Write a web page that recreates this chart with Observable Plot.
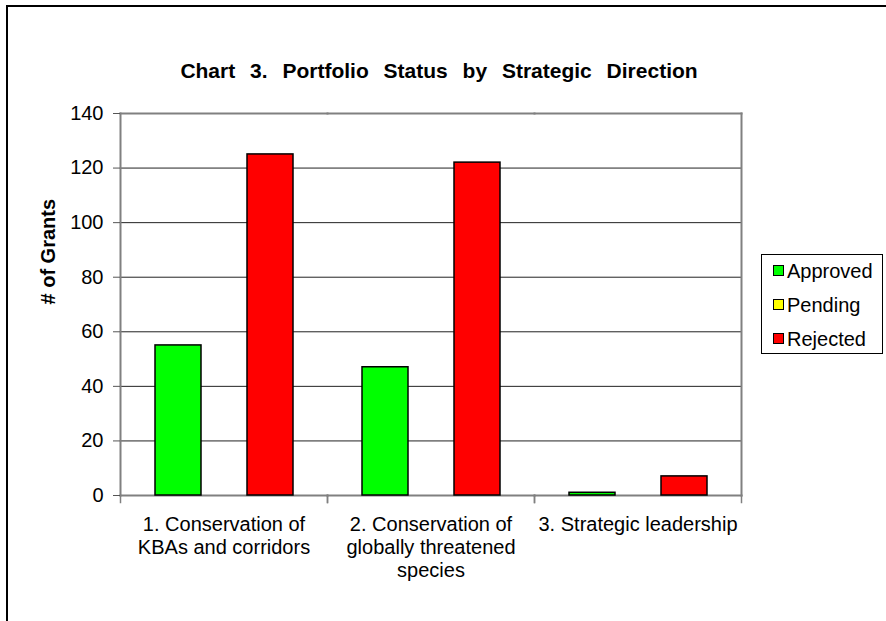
<!DOCTYPE html>
<html>
<head>
<meta charset="utf-8">
<script src="https://cdn.jsdelivr.net/npm/d3@7"></script>
<script src="https://cdn.jsdelivr.net/npm/@observablehq/plot@0.6"></script>
<style>
  html, body { margin: 0; padding: 0; width: 886px; height: 621px; overflow: hidden; background: #fff; }
  body { position: relative; font-family: "Liberation Sans", Arial, sans-serif; }
  #border { position: absolute; left: 6px; top: 5px; width: 1000px; height: 1000px; border: 2px solid #000; }
  #chart { position: absolute; left: 0; top: 0; }
  #title { position: absolute; left: 0; width: 878px; top: 59px; text-align: center; font-weight: bold; font-size: 21px; word-spacing: 9px; white-space: nowrap; }
  #legend { position: absolute; left: 761px; top: 254px; width: 122px; height: 100px; border: 1px solid #000; box-sizing: border-box; }
  .item { position: absolute; left: 11px; font-size: 20px; line-height: 20px; white-space: nowrap; }
  .sw { display: inline-block; width: 9px; height: 9px; border: 1.5px solid #000; margin-right: 3px; vertical-align: 2px; }
</style>
</head>
<body>
<div id="border"></div>
<div id="chart"></div>
<div id="title">Chart 3. Portfolio Status by Strategic Direction</div>
<div id="legend"></div>
<script>
const categories = [
  "1. Conservation of KBAs and corridors",
  "2. Conservation of globally threatened species",
  "3. Strategic leadership"
];
const tickLabels = [
  "1. Conservation of\nKBAs and corridors",
  "2. Conservation of\nglobally threatened\nspecies",
  "3. Strategic leadership"
];
const statuses = ["Approved", "Pending", "Rejected"];
const statusColors = ["#00ff00", "#ffff00", "#ff0000"];
const approved = [55, 47, 1];
const pending = [0, 0, 0];
const rejected = [125, 122, 7];
const yTicks = [0, 20, 40, 60, 80, 100, 120, 140];
const yLabel = "# of Grants";

const series = [approved, pending, rejected];
const data = [];
categories.forEach((c, i) => {
  statuses.forEach((s, j) => data.push({category: c, status: s, value: series[j][i]}));
});

const W = 886, H = 621;
const mTop = 113, mBottom = 126, mLeft = 119, mRight = 145;
const plotH = H - mTop - mBottom;

const chart = Plot.plot({
  width: W,
  height: H,
  marginTop: mTop,
  marginBottom: mBottom,
  marginLeft: mLeft,
  marginRight: mRight,
  style: {fontFamily: "'Liberation Sans', Arial, sans-serif", fontSize: "20px", color: "#000", background: "transparent"},
  fx: {domain: categories, paddingInner: 0, paddingOuter: 0, axis: null, label: null},
  x: {domain: statuses, paddingInner: 0, paddingOuter: 0.735, axis: null},
  y: {domain: [0, 140], axis: null},
  color: {domain: statuses, range: statusColors},
  marks: [
    Plot.gridY(yTicks, {stroke: "#222", strokeOpacity: 1, strokeWidth: 1}),
    Plot.frame({anchor: "top", stroke: "#808080", strokeWidth: 2}),
    Plot.frame({anchor: "bottom", stroke: "#808080", strokeWidth: 2}),
    Plot.frame({anchor: "right", stroke: "#808080", strokeWidth: 2, facetAnchor: "right"}),
    Plot.frame({anchor: "left", stroke: "#808080", strokeWidth: 2, facetAnchor: "left"}),
    Plot.frame({anchor: "left", stroke: "#808080", strokeWidth: 1.5, insetTop: plotH, insetBottom: -7}),
    Plot.frame({anchor: "right", stroke: "#808080", strokeWidth: 1.5, insetTop: plotH, insetBottom: -7}),
    Plot.barY(data.filter(d => d.value > 0), {
      fx: "category", x: "status", y: "value", fill: "status",
      stroke: "#000", strokeWidth: 1.5
    }),
    Plot.axisY(yTicks, {anchor: "left", tickSize: 7, tickPadding: 10, fontSize: 20, stroke: "#555", label: null}),
    Plot.axisFx({anchor: "bottom", tickSize: 0, tickPadding: 19, fontSize: 20, lineHeight: 1.15,
      tickFormat: d => tickLabels[categories.indexOf(d)], label: null}),
    Plot.text([yLabel], {frameAnchor: "left", rotate: -90, dx: -72, fontWeight: "bold", fontSize: 20, facetAnchor: "left"})
  ]
});
document.getElementById("chart").appendChild(chart);

const legend = document.getElementById("legend");
statuses.forEach((s, j) => {
  const item = document.createElement("div");
  item.className = "item";
  item.style.top = (6 + j * 34) + "px";
  const sw = document.createElement("span");
  sw.className = "sw";
  sw.style.background = statusColors[j];
  item.appendChild(sw);
  item.appendChild(document.createTextNode(s));
  legend.appendChild(item);
});
</script>
</body>
</html>
